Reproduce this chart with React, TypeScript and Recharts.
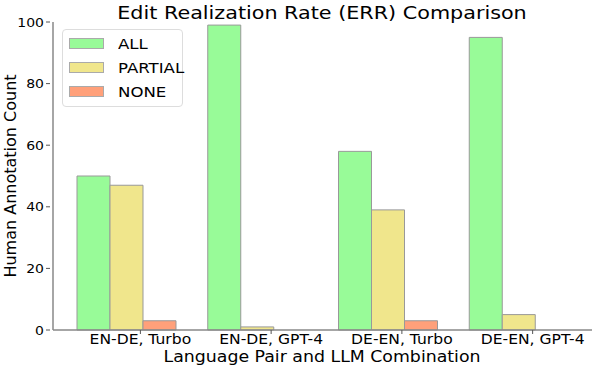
import { BarChart, Bar, XAxis, YAxis } from "recharts";

document.body.style.margin = "0";

const categories = ["EN-DE, Turbo", "EN-DE, GPT-4", "DE-EN, Turbo", "DE-EN, GPT-4"];
const allValues = [50, 99, 58, 95];
const partialValues = [47, 1, 39, 5];
const noneValues = [3, 0, 3, 0];
const yTicks = [0, 20, 40, 60, 80, 100];

const seriesInfo = [
    { key: "all", name: "ALL", color: "#98FB98" },
    { key: "partial", name: "PARTIAL", color: "#F0E68C" },
    { key: "none", name: "NONE", color: "#FFA07A" },
];

const data = categories.map((name, i) => ({
    name,
    all: allValues[i],
    partial: partialValues[i],
    none: noneValues[i],
}));

const FONT = "'DejaVu Sans', sans-serif";
// the reference text is a little wider than it is tall
const SX = 1.12;

// horizontal text, stretched a bit in x
function SText({ x, y, size, anchor = "middle", children }: any) {
    return (
        <g transform={`translate(${x},${y}) scale(${SX},1)`}>
            <text x={0} y={0} textAnchor={anchor} fontSize={size} fontFamily={FONT} fill="#000">
                {children}
            </text>
        </g>
    );
}

// x ticks sit a little right of the group centre, as in the source plot
function XTick(props: any) {
    const { x, y, payload } = props;
    const tx = x + 14;
    return (
        <g>
            <line x1={tx} x2={tx} y1={y - 8} y2={y - 4} stroke="#555" strokeWidth={1} />
            <SText x={tx} y={y + 5.5} size={13.9}>
                {payload.value}
            </SText>
        </g>
    );
}

function YTick(props: any) {
    const { x, y, payload } = props;
    return (
        <g>
            <line x1={x + 1} x2={x + 5} y1={y} y2={y} stroke="#555" strokeWidth={1} />
            <SText x={x - 1} y={y + 4.5} size={12.5} anchor="end">
                {payload.value}
            </SText>
        </g>
    );
}

function ChartLegend() {
    return (
        <div
            style={{
                position: "absolute",
                left: 62,
                top: 29,
                width: 121,
                height: 78,
                border: "1px solid #ddd",
                borderRadius: 4,
                background: "rgba(255,255,255,0.8)",
                fontFamily: FONT,
                fontSize: 14.8,
                boxSizing: "border-box",
            }}
        >
            {seriesInfo.map((s, i) => (
                <div
                    key={s.key}
                    style={{ position: "absolute", left: 6, top: 8 + i * 24, display: "flex", alignItems: "center" }}
                >
                    <div
                        style={{
                            width: 35,
                            height: 11,
                            background: s.color,
                            border: "1px solid #aaa",
                            boxSizing: "border-box",
                        }}
                    />
                    <span
                        style={{
                            marginLeft: 14,
                            lineHeight: "11px",
                            display: "inline-block",
                            transform: `scaleX(${SX})`,
                            transformOrigin: "left center",
                        }}
                    >
                        {s.name}
                    </span>
                </div>
            ))}
        </div>
    );
}

export default function App() {
    return (
        <div style={{ position: "relative", width: 594, height: 366, fontFamily: FONT }}>
            <BarChart
                width={594}
                height={366}
                data={data}
                margin={{ top: 22, right: 2, left: 0, bottom: 0 }}
                barGap={0}
                barSize={33}
            >
                <SText x={322} y={19} size={18.5}>
                    Edit Realization Rate (ERR) Comparison
                </SText>
                <SText x={322} y={362} size={15.5}>
                    Language Pair and LLM Combination
                </SText>
                <text
                    transform="translate(16,176) rotate(-90)"
                    x={0}
                    y={0}
                    textAnchor="middle"
                    fontSize={16}
                    fontFamily={FONT}
                    fill="#000"
                >
                    Human Annotation Count
                </text>
                <XAxis
                    dataKey="name"
                    height={36}
                    padding={{ left: 8, right: 8 }}
                    stroke="#888"
                    strokeWidth={1.5}
                    tickLine={false}
                    tick={<XTick />}
                    interval={0}
                />
                <YAxis
                    width={53}
                    domain={[0, 100]}
                    ticks={yTicks}
                    interval={0}
                    stroke="#888"
                    strokeWidth={1.5}
                    tickLine={false}
                    tick={<YTick />}
                />
                {seriesInfo.map((s) => (
                    <Bar
                        key={s.key}
                        dataKey={s.key}
                        name={s.name}
                        fill={s.color}
                        stroke="#999"
                        strokeWidth={1}
                        isAnimationActive={false}
                    />
                ))}
            </BarChart>
            <ChartLegend />
        </div>
    );
}
